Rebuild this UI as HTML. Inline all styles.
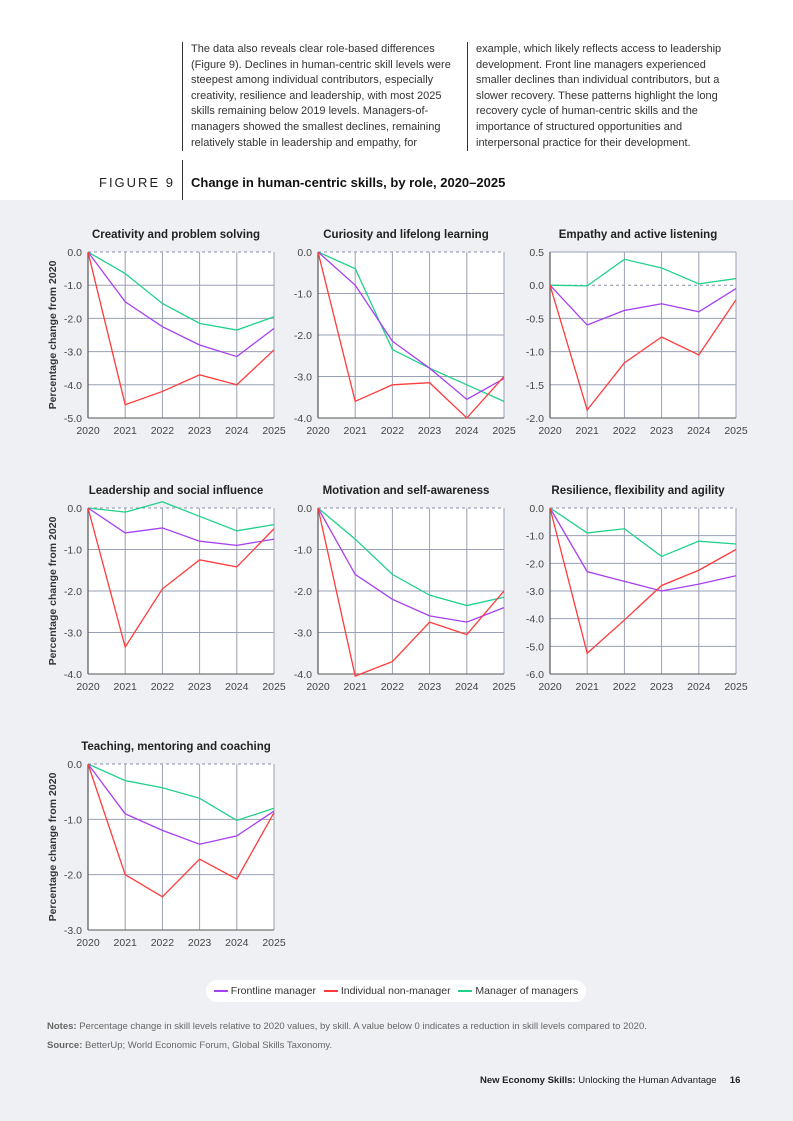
<!DOCTYPE html>
<html><head><meta charset="utf-8"><style>
body{margin:0;width:793px;height:1121px;position:relative;background:#fff;font-family:"Liberation Sans",sans-serif;overflow:hidden}
.gray{position:absolute;left:0;top:200px;width:793px;height:921px;background:#eff0f4}
.col{position:absolute;top:42px;font-size:11px;line-height:15.6px;color:#333;border-left:1px solid #333;padding-left:8px}
</style></head><body>
<div class="gray"></div>
<div class="col" style="left:182px;width:276px">The data also reveals clear role-based differences (Figure 9). Declines in human-centric skill levels were steepest among individual contributors, especially creativity, resilience and leadership, with most 2025 skills remaining below 2019 levels. Managers-of-managers showed the smallest declines, remaining relatively stable in leadership and empathy, for</div>
<div class="col" style="left:467px;width:262px">example, which likely reflects access to leadership development. Front line managers experienced smaller declines than individual contributors, but a slower recovery. These patterns highlight the long recovery cycle of human-centric skills and the importance of structured opportunities and interpersonal practice for their development.</div>
<div style="position:absolute;left:182px;top:160px;width:1px;height:40px;background:#333"></div>
<div style="position:absolute;left:99px;top:175px;font-size:13px;letter-spacing:2px;color:#222">FIGURE 9</div>
<div style="position:absolute;left:191px;top:175px;font-size:13px;font-weight:bold;color:#111">Change in human-centric skills, by role, 2020–2025</div>
<svg id="c" width="793" height="1121" style="position:absolute;left:0;top:0"></svg>
<div style="position:absolute;left:206px;top:980px;width:380px;height:22px;background:#fff;border-radius:11px;font-size:10.5px;color:#333;line-height:22px;white-space:nowrap;text-align:center">
<span style="display:inline-block;width:14px;height:2px;background:#a740f0;vertical-align:middle"></span> Frontline manager
<span style="margin-left:5px;display:inline-block;width:14px;height:2px;background:#ff3b3b;vertical-align:middle"></span> Individual non-manager
<span style="margin-left:5px;display:inline-block;width:14px;height:2px;background:#1fd18a;vertical-align:middle"></span> Manager of managers</div>
<div style="position:absolute;left:47px;top:1021px;font-size:9.5px;color:#666"><b>Notes:</b> Percentage change in skill levels relative to 2020 values, by skill. A value below 0 indicates a reduction in skill levels compared to 2020.</div>
<div style="position:absolute;left:47px;top:1040px;font-size:9.5px;color:#666"><b>Source:</b> BetterUp; World Economic Forum, Global Skills Taxonomy.</div>
<div style="position:absolute;left:480px;top:1075px;font-size:9.5px;color:#222"><b>New Economy Skills:</b> Unlocking the Human Advantage &nbsp;&nbsp;&nbsp; <b>16</b></div>
<script>
const years=[2020,2021,2022,2023,2024,2025];
const titles=["Creativity and problem solving","Curiosity and lifelong learning","Empathy and active listening","Leadership and social influence","Motivation and self-awareness","Resilience, flexibility and agility","Teaching, mentoring and coaching"];
const frontline=[[0,-1.5,-2.25,-2.8,-3.15,-2.3],[0,-0.8,-2.15,-2.8,-3.55,-3.05],[0,-0.6,-0.38,-0.28,-0.4,-0.05],[0,-0.6,-0.48,-0.8,-0.9,-0.75],[0,-1.6,-2.2,-2.6,-2.75,-2.4],[0,-2.3,-2.65,-3.0,-2.75,-2.45],[0,-0.9,-1.2,-1.45,-1.3,-0.85]];
const individual=[[0,-4.6,-4.2,-3.7,-4.0,-2.95],[0,-3.6,-3.2,-3.15,-4.0,-3.0],[0,-1.88,-1.17,-0.78,-1.05,-0.22],[0,-3.35,-1.95,-1.25,-1.42,-0.5],[0,-4.05,-3.7,-2.75,-3.05,-2.0],[0,-5.25,-4.05,-2.8,-2.25,-1.5],[0,-2.0,-2.4,-1.72,-2.08,-0.88]];
const managers=[[0,-0.65,-1.55,-2.15,-2.35,-1.95],[0,-0.4,-2.35,-2.8,-3.2,-3.6],[0,-0.01,0.39,0.26,0.02,0.1],[0,-0.1,0.15,-0.2,-0.55,-0.4],[0,-0.75,-1.6,-2.1,-2.35,-2.15],[0,-0.9,-0.75,-1.75,-1.2,-1.3],[0,-0.3,-0.43,-0.62,-1.02,-0.8]];
const yTicks=[[0,-1,-2,-3,-4,-5],[0,-1,-2,-3,-4],[0.5,0,-0.5,-1,-1.5,-2],[0,-1,-2,-3,-4],[0,-1,-2,-3,-4],[0,-1,-2,-3,-4,-5,-6],[0,-1,-2,-3]];
const svg=document.getElementById('c');const NS='http://www.w3.org/2000/svg';
function mk(t,a,p){const e=document.createElementNS(NS,t);for(const k in a)e.setAttribute(k,a[k]);(p||svg).appendChild(e);return e;}
const lefts=[88,318,550],tops=[252,508,764],W=186,H=166;
titles.forEach((t,i)=>{
 const L=lefts[i%3],T=tops[Math.floor(i/3)];
 const tk=yTicks[i],ymax=tk[0],ymin=tk[tk.length-1];
 const x=j=>L+j*W/5, y=v=>T+(ymax-v)/(ymax-ymin)*H;
 const g=mk('g',{});
 
 
 mk('rect',{x:L,y:T,width:W,height:H,fill:'#fff'},g);
 tk.forEach(v=>{
  if(v!==0)mk('line',{x1:L,x2:L+W,y1:y(v),y2:y(v),stroke:'#9aa0b4','stroke-width':1},g);
  else mk('line',{x1:L,x2:L+W,y1:y(v),y2:y(v),stroke:'#8a90a4','stroke-width':1,'stroke-dasharray':'3,3'},g);
  const tx=mk('text',{x:L-6,y:y(v)+4,'text-anchor':'end','font-size':10.5,fill:'#444'},g);tx.textContent=v.toFixed(1);
 });
 years.forEach((yr,j)=>{
  if(j>0)mk('line',{x1:x(j),x2:x(j),y1:T,y2:T+H,stroke:'#9aa0b4','stroke-width':1},g);
  const tx=mk('text',{x:x(j),y:T+H+16,'text-anchor':'middle','font-size':10.5,fill:'#444'},g);tx.textContent=yr;
 });
 mk('line',{x1:L,x2:L,y1:T,y2:T+H,stroke:'#555','stroke-width':1.2},g);
 mk('line',{x1:L,x2:L+W,y1:T+H,y2:T+H,stroke:'#777','stroke-width':1.2},g);
 const tt=mk('text',{x:L+W/2-5,y:T-14,'text-anchor':'middle','font-size':11.5,'font-weight':'bold',fill:'#222'},g);tt.textContent=t;
 if(i%3===0){const yt=mk('text',{transform:`translate(56,${T+H/2}) rotate(-90)`,'text-anchor':'middle','font-size':10.5,'font-weight':'bold',fill:'#333'},g);yt.textContent='Percentage change from 2020';}
 [[managers,'#1fd18a','manager-of-managers-line'],[frontline,'#a740f0','frontline-manager-line'],[individual,'#ff3b3b','individual-line']].forEach(([d,c,n])=>{
  const p=mk('polyline',{points:d[i].map((v,j)=>x(j)+','+y(v)).join(' '),fill:'none',stroke:c,'stroke-width':1.3},g);
  
  
 });
});
</script>
</body></html>
